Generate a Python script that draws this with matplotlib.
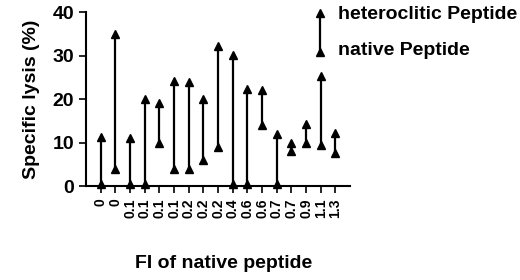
import matplotlib
matplotlib.use("Agg")
import matplotlib.pyplot as plt
import numpy as np

plt.rcParams["font.family"] = ["Liberation Sans", "DejaVu Sans"]
plt.rcParams["font.weight"] = "bold"
plt.rcParams["axes.labelweight"] = "bold"

# FI of native peptide (one column per peptide pair)
fi_labels = ["0", "0", "0.1", "0.1", "0.1", "0.1", "0.2", "0.2", "0.2",
             "0.4", "0.6", "0.6", "0.7", "0.7", "0.9", "1.1", "1.3"]
# specific lysis (%) with native peptide (arrow start)
native_lysis = [0.5, 4, 0.5, 0.5, 10, 4, 4, 6, 9,
                0.5, 0.5, 14, 0.5, 8, 10, 9.5, 7.7]
# specific lysis (%) with heteroclitic peptide (arrow head)
hetero_lysis = [11.3, 35, 11, 20, 19, 24.2, 24, 20, 32.2,
                30.2, 22.2, 22, 12, 10, 14.3, 25.3, 12.3]

fig = plt.figure(figsize=(5.2, 2.8), dpi=100)
ax = fig.add_axes([0.1654, 0.3357, 0.508, 0.6214])

x = np.arange(len(fi_labels))
ax.vlines(x, native_lysis, hetero_lysis, color="black", linewidth=1.6)
ax.plot(x, hetero_lysis, "^", color="black", markersize=5.5, clip_on=False)
ax.plot(x, native_lysis, "^", color="black", markersize=5.5, clip_on=False)

ax.set_xlim(-1, 17)
ax.set_ylim(0, 40)
ax.set_yticks([0, 10, 20, 30, 40])
ax.set_xticks(x)
ax.set_xticklabels(fi_labels, rotation=90, va="top", fontsize=10)
ax.tick_params(axis="y", labelsize=14, length=5, width=1.2, direction="out")
ax.tick_params(axis="x", length=5, width=1.2, direction="out", pad=4)
for s in ["top", "right"]:
    ax.spines[s].set_visible(False)
for s in ["left", "bottom"]:
    ax.spines[s].set_linewidth(1.5)

ax.set_ylabel("Specific lysis (%)", fontsize=14, labelpad=9)
fig.text(0.43, 0.06, "FI of native peptide", fontsize=14, ha="center", va="center")

# legend drawn as a small arrow in axes coordinates
lx = 0.886
ax.plot([lx, lx], [0.77, 0.994], color="black", linewidth=1.6,
        transform=ax.transAxes, clip_on=False)
ax.plot([lx, lx], [0.77, 0.994], "^", color="black", markersize=5.5,
        transform=ax.transAxes, clip_on=False)
ax.text(0.955, 0.983, "heteroclitic Peptide", fontsize=14, va="center",
        ha="left", transform=ax.transAxes, clip_on=False)
ax.text(0.955, 0.78, "native Peptide", fontsize=14, va="center",
        ha="left", transform=ax.transAxes, clip_on=False)

fig.savefig("out.png", dpi=100)
